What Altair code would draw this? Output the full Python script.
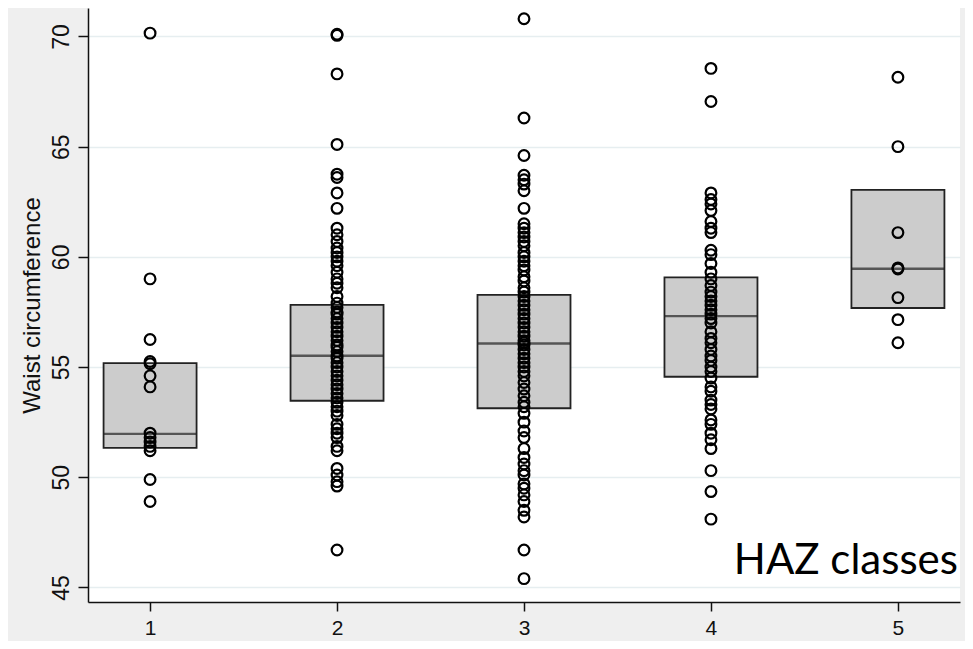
import altair as alt
import pandas as pd

# ---- data ----
classes = [1, 2, 3, 4, 5]
box_q1 = [51.33, 53.47, 53.13, 54.56, 57.68]
box_median = [51.97, 55.51, 56.07, 57.31, 59.46]
box_q3 = [55.18, 57.82, 58.27, 59.07, 63.04]

waist_1 = [70.15, 59.0, 56.25, 55.25, 55.15, 54.6, 54.1, 52.0, 51.8, 51.6, 51.4,
           51.2, 49.9, 48.9]
waist_2 = [70.1, 70.05, 68.3, 65.1, 63.75, 63.6, 62.9, 62.2, 61.3, 61.0, 60.7,
           60.4, 60.2, 60.0, 59.8, 59.6, 59.3, 59.0, 58.8, 58.6, 58.2, 57.9, 57.7,
           57.5, 57.4, 57.2, 57.0, 56.8, 56.6, 56.4, 56.2, 56.0, 55.9, 55.7, 55.5,
           55.4, 55.2, 55.0, 54.8, 54.6, 54.4, 54.2, 54.0, 53.8, 53.6, 53.4, 53.2,
           53.0, 52.8, 52.4, 52.2, 52.0, 51.8, 51.4, 51.2, 50.4, 50.1, 49.8, 49.6,
           46.7]
waist_3 = [70.8, 66.3, 64.6, 63.7, 63.5, 63.3, 63.0, 62.2, 61.5, 61.3, 61.1, 60.9,
           60.7, 60.5, 60.2, 60.0, 59.8, 59.6, 59.4, 59.1, 58.9, 58.6, 58.4, 58.2,
           58.0, 57.8, 57.6, 57.4, 57.2, 57.0, 56.8, 56.6, 56.4, 56.2, 56.1, 56.0,
           55.8, 55.6, 55.4, 55.2, 55.0, 54.8, 54.6, 54.3, 54.0, 53.7, 53.4, 53.2,
           52.9, 52.5, 52.1, 51.8, 51.3, 50.9, 50.6, 50.3, 50.1, 49.7, 49.5, 49.2,
           48.9, 48.5, 48.2, 46.7, 45.4]
waist_4 = [68.55, 67.05, 62.9, 62.6, 62.4, 62.1, 61.6, 61.3, 61.1, 60.3, 60.1,
           59.7, 59.3, 59.0, 58.7, 58.4, 58.2, 58.0, 57.8, 57.6, 57.4, 57.2, 57.0,
           56.6, 56.3, 56.1, 55.8, 55.5, 55.3, 55.0, 54.8, 54.5, 54.1, 53.9, 53.5,
           53.3, 53.1, 52.6, 52.4, 52.0, 51.7, 51.3, 50.3, 49.35, 48.1]
waist_5 = [68.15, 65.0, 61.1, 59.5, 59.45, 58.15, 57.15, 56.1]

y_ticks = [45, 50, 55, 60, 65, 70]
annotation = ["HAZ classes"]

# ---- tables ----
groups = [waist_1, waist_2, waist_3, waist_4, waist_5]
pts = pd.DataFrame({
    "cls": [c for c, g in zip(classes, groups) for _ in g],
    "waist": [v for g in groups for v in g],
})
boxes = pd.DataFrame({"cls": classes, "q1": box_q1, "med": box_median, "q3": box_q3})
note = pd.DataFrame({"x": [5.321], "y": [45.59], "t": annotation})

xscale = alt.Scale(domain=[0.668, 5.332], nice=False, zero=False, padding=0)
yscale = alt.Scale(domain=[44.34, 71.29], nice=False, zero=False, padding=0)

xaxis = alt.Axis(values=classes, title=None, grid=False, format="d",
                 labelFontSize=21, labelFont="Liberation Sans", labelColor="#111111",
                 labelPadding=6, tickSize=9, tickWidth=1.5, tickColor="#111111",
                 domainColor="#111111", domainWidth=1.5, labelFlush=False)
yaxis = alt.Axis(values=y_ticks, title="Waist circumference", grid=True,
                 gridColor="#e6eef0", gridWidth=1.5,
                 labelFontSize=23, labelFont="Liberation Sans", labelColor="#111111",
                 labelAngle=270, labelAlign="center", labelBaseline="alphabetic",
                 labelPadding=10, tickSize=10, tickWidth=1.5, tickColor="#111111",
                 domainColor="#111111", domainWidth=1.5,
                 titleFont="Liberation Sans", titleFontSize=24, titleFontWeight="normal",
                 titleColor="#111111", titlePadding=6, labelFlush=False)

bars = alt.Chart(boxes).mark_bar(size=93, color="#cccccc", stroke="#222222",
                                 strokeWidth=1.8).encode(
    x=alt.X("cls:Q", scale=xscale, axis=xaxis),
    y=alt.Y("q1:Q", scale=yscale, axis=yaxis),
    y2="q3:Q",
)
medians = alt.Chart(boxes).mark_tick(size=93, thickness=2.4, orient="horizontal",
                                     color="#222222").encode(
    x=alt.X("cls:Q", scale=xscale, axis=xaxis),
    y=alt.Y("med:Q", scale=yscale, axis=yaxis),
)
points = alt.Chart(pts).mark_point(shape="circle", size=115, filled=False,
                                   stroke="black", strokeWidth=2.2, opacity=1).encode(
    x=alt.X("cls:Q", scale=xscale, axis=xaxis),
    y=alt.Y("waist:Q", scale=yscale, axis=yaxis),
)
text = alt.Chart(note).mark_text(align="right", baseline="alphabetic", font="Lato",
                                 fontSize=42, color="black").encode(
    x=alt.X("x:Q", scale=xscale, axis=xaxis),
    y=alt.Y("y:Q", scale=yscale, axis=yaxis),
    text="t:N",
)

chart = alt.layer(bars, medians, points, text).properties(
    width=872, height=594,
    autosize=alt.AutoSizeParams(type="none"),
    padding={"left": 80, "top": 0, "right": 5, "bottom": 39},
    background="#efefef",
).configure_view(fill="white", stroke=None)

chart.save("out.html", embed_options={"renderer": "svg", "actions": False})
